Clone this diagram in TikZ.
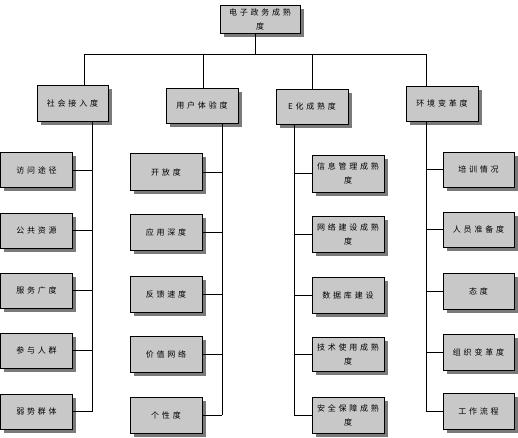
\documentclass[tikz,border=0pt]{standalone}
\usepackage{fontspec}
\newfontfamily\cjk[LetterSpace=35]{Noto Sans CJK SC}
\usetikzlibrary{shadows}
\tikzset{
  box/.style={draw=black, line width=0.9pt, fill=boxgray, minimum width=72pt, minimum height=36pt,
    inner sep=1pt, align=center, font=\cjk\fontsize{8}{14}\selectfont,
    general shadow={fill=shadowgray, shadow xshift=3.5pt, shadow yshift=-3.5pt}},
  conn/.style={draw=black, line width=0.9pt}
}
\definecolor{boxgray}{HTML}{C8C8C8}
\definecolor{shadowgray}{HTML}{7A7A7A}
\begin{document}
\begin{tikzpicture}[x=1pt,y=-1pt]
\useasboundingbox (0,0) rectangle (518,437);
% root
\node[box, minimum width=80pt, minimum height=28pt] (root) at (260,19) {电子政务成熟\\度};
% level 1
\node[box, minimum width=71pt] (a) at (72.5,103) {社会接入度};
\node[box, minimum height=35pt] (b) at (202,105.5) {用户体验度};
\node[box, minimum height=35pt] (c) at (312,106.5) {E化成熟度};
\node[box, minimum height=35pt] (d) at (442,103.5) {环境变革度};
% bus coordinates
\coordinate (rt) at (255,0);
\coordinate (bus) at (0,54);
\coordinate (ba) at (84,54);
\coordinate (bb) at (203,54);
\coordinate (bc) at (312,54);
\coordinate (bd) at (426,54);
\draw[conn] (root.south -| rt) -- (bus -| rt);
\draw[conn] (ba) -- (bd);
\draw[conn] (ba) -- (ba |- a.north);
\draw[conn] (bb) -- (bb |- b.north);
\draw[conn] (bc) -- (bc |- c.north);
\draw[conn] (bd) -- (bd |- d.north);
% column 1
\node[box, minimum height=35pt] (a1) at (36.5,170) {访问途径};
\node[box, minimum height=35pt] (a2) at (36.5,230.5) {公共资源};
\node[box, minimum height=35pt] (a3) at (36.5,290.5) {服务广度};
\node[box, minimum height=35pt] (a4) at (36.5,350.5) {参与人群};
\node[box, minimum height=35pt] (a5) at (36.5,411.5) {弱势群体};
% column 2
\node[box, minimum height=37pt] (b1) at (166,172) {开放度};
\node[box] (b2) at (166,232.5) {应用深度};
\node[box] (b3) at (166,294) {反馈速度};
\node[box] (b4) at (166,354.5) {价值网络};
\node[box] (b5) at (166,415) {个性度};
% column 3
\node[box, minimum height=37pt] (c1) at (348,173.5) {信息管理成熟\\度};
\node[box] (c2) at (348,234) {网络建设成熟\\度};
\node[box] (c3) at (348,295) {数据库建设};
\node[box, minimum height=34pt] (c4) at (348,354.5) {技术使用成熟\\度};
\node[box] (c5) at (348,415) {安全保障成熟\\度};
% column 4
\node[box, minimum width=71pt, minimum height=35pt] (d1) at (478.5,169.5) {培训情况};
\node[box, minimum width=71pt, minimum height=35pt] (d2) at (478.5,229.5) {人员准备度};
\node[box, minimum width=71pt] (d3) at (478.5,291) {态度};
\node[box, minimum width=71pt] (d4) at (478.5,352) {组织变革度};
\node[box, minimum width=71pt] (d5) at (478.5,411) {工作流程};
% stems
\coordinate (sa) at (92,0);
\coordinate (sb) at (222,0);
\coordinate (sc) at (294,0);
\coordinate (sd) at (426,0);
\draw[conn] (a.south -| sa) -- (sa |- a5.east);
\draw[conn] (b.south -| sb) -- (sb |- b5.east);
\draw[conn] (c.south -| sc) -- (sc |- c5.west);
\draw[conn] (d.south -| sd) -- (sd |- d5.west);
\foreach \n in {a1,a2,a3,a4,a5} { \draw[conn] (\n.east) -- (\n.east -| sa); }
\foreach \n in {b1,b2,b3,b4,b5} { \draw[conn] (\n.east) -- (\n.east -| sb); }
\foreach \n in {c1,c2,c3,c4,c5} { \draw[conn] (\n.west) -- (\n.west -| sc); }
\foreach \n in {d1,d2,d3,d4,d5} { \draw[conn] (\n.west) -- (\n.west -| sd); }
\end{tikzpicture}
\end{document}
